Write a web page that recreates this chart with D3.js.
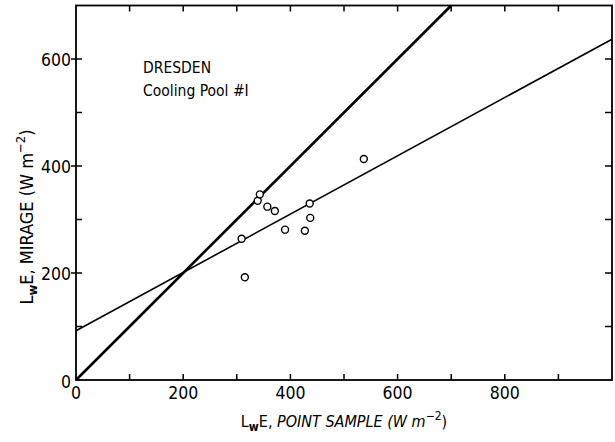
<!DOCTYPE html>
<html>
<head>
<meta charset="utf-8">
<script src="https://cdn.jsdelivr.net/npm/d3@7"></script>
<style>
  body { margin: 0; background: #fff; }
  svg { display: block; }
  text { font-family: "DejaVu Sans Condensed", "Liberation Sans Narrow", "Liberation Sans", sans-serif; fill: #000; }
</style>
</head>
<body>
<div id="chart"></div>
<script>
// point sample vs mirage latent heat flux
const pointSample = [309, 315, 339, 343, 357, 371, 390, 427, 436, 437, 537];
const mirage      = [264, 192, 335, 347, 324, 316, 281, 279, 330, 303, 413];

// fitted regression line (end points) and the 1:1 line
const fitX = [0, 1000];
const fitY = [92, 637];
const oneX = [0, 700];
const oneY = [0, 700];

const xMajor = [0, 200, 400, 600, 800];
const xMinor = [100, 300, 500, 700, 900];
const yMajor = [0, 200, 400, 600];
const yMinor = [100, 300, 500];

const width = 615, height = 442;
const plotL = 76, plotR = 612, plotT = 5.5, plotB = 380;

const x = d3.scaleLinear().domain([0, 1000]).range([plotL, plotR]);
const y = d3.scaleLinear().domain([0, 700]).range([plotB, plotT]);

const svg = d3.select("#chart").append("svg")
    .attr("width", width)
    .attr("height", height);

const line = d3.line().x(d => x(d[0])).y(d => y(d[1]));

// 1:1 line
svg.append("path")
    .datum(d3.zip(oneX, oneY))
    .attr("d", line)
    .attr("fill", "none")
    .attr("stroke", "#000")
    .attr("stroke-width", 2.6);

// regression
svg.append("path")
    .datum(d3.zip(fitX, fitY))
    .attr("d", line)
    .attr("fill", "none")
    .attr("stroke", "#000")
    .attr("stroke-width", 1.6);

// frame
svg.append("rect")
    .attr("x", plotL).attr("y", plotT)
    .attr("width", plotR - plotL).attr("height", plotB - plotT)
    .attr("fill", "none")
    .attr("stroke", "#000")
    .attr("stroke-width", 1.8);

// ticks, all pointing inward; left majors also stick out
const allX = xMajor.concat(xMinor).filter(v => v > 0);
const allY = yMajor.concat(yMinor).filter(v => v > 0);
const tk = svg.append("g").attr("stroke", "#000").attr("stroke-width", 1.5);

tk.selectAll(".xb").data(allX).join("line")
    .attr("x1", d => x(d)).attr("x2", d => x(d))
    .attr("y1", plotB).attr("y2", plotB - 6);
tk.selectAll(".xt").data(allX).join("line")
    .attr("x1", d => x(d)).attr("x2", d => x(d))
    .attr("y1", plotT).attr("y2", plotT + 6);
tk.selectAll(".yl").data(allY).join("line")
    .attr("y1", d => y(d)).attr("y2", d => y(d))
    .attr("x1", d => yMajor.includes(d) ? plotL - 5 : plotL).attr("x2", plotL + 6);
tk.selectAll(".yr").data(allY).join("line")
    .attr("y1", d => y(d)).attr("y2", d => y(d))
    .attr("x1", plotR).attr("x2", plotR - 7);

// tick labels
svg.append("g").selectAll("text").data(xMajor).join("text")
    .attr("x", d => x(d))
    .attr("y", plotB + 19)
    .attr("text-anchor", "middle")
    .style("font-size", "17.5px")
    .text(d => d);

svg.append("g").selectAll("text").data(yMajor).join("text")
    .attr("x", plotL - 5)
    .attr("y", d => y(d) + (d === 0 ? 8 : 6.5))
    .attr("text-anchor", "end")
    .style("font-size", "17.5px")
    .text(d => d);

// data points
svg.append("g").selectAll("circle").data(d3.range(pointSample.length)).join("circle")
    .attr("cx", i => x(pointSample[i]))
    .attr("cy", i => y(mirage[i]))
    .attr("r", 3.5)
    .attr("fill", "#fff")
    .attr("stroke", "#000")
    .attr("stroke-width", 1.4);

// annotation
const note = svg.append("g").style("font-size", "15.5px");
note.append("text").attr("x", 143).attr("y", 73).text("DRESDEN");
note.append("text").attr("x", 143).attr("y", 96).text("Cooling Pool #I");

// axis titles
const xt = svg.append("text")
    .attr("x", (plotL + plotR) / 2)
    .attr("y", 427)
    .attr("text-anchor", "middle")
    .style("font-size", "16px");
xt.append("tspan").text("L");
xt.append("tspan").attr("dy", 4).style("font-size", "12px").style("font-weight", "bold").text("w");
xt.append("tspan").attr("dy", -4).text("E,  ");
xt.append("tspan").style("font-style", "italic").text("POINT SAMPLE (W m");
xt.append("tspan").attr("dy", -7).style("font-size", "12px").text("−2");
xt.append("tspan").attr("dy", 7).text(")");

const yt = svg.append("text")
    .attr("transform", "translate(33,217) rotate(-90)")
    .attr("text-anchor", "middle")
    .style("font-size", "18px");
yt.append("tspan").text("L");
yt.append("tspan").attr("dy", 4).style("font-size", "13px").style("font-weight", "bold").text("w");
yt.append("tspan").attr("dy", -4).text("E,  MIRAGE (W m");
yt.append("tspan").attr("dy", -8).style("font-size", "13px").text("−2");
yt.append("tspan").attr("dy", 8).text(")");
</script>
</body>
</html>
